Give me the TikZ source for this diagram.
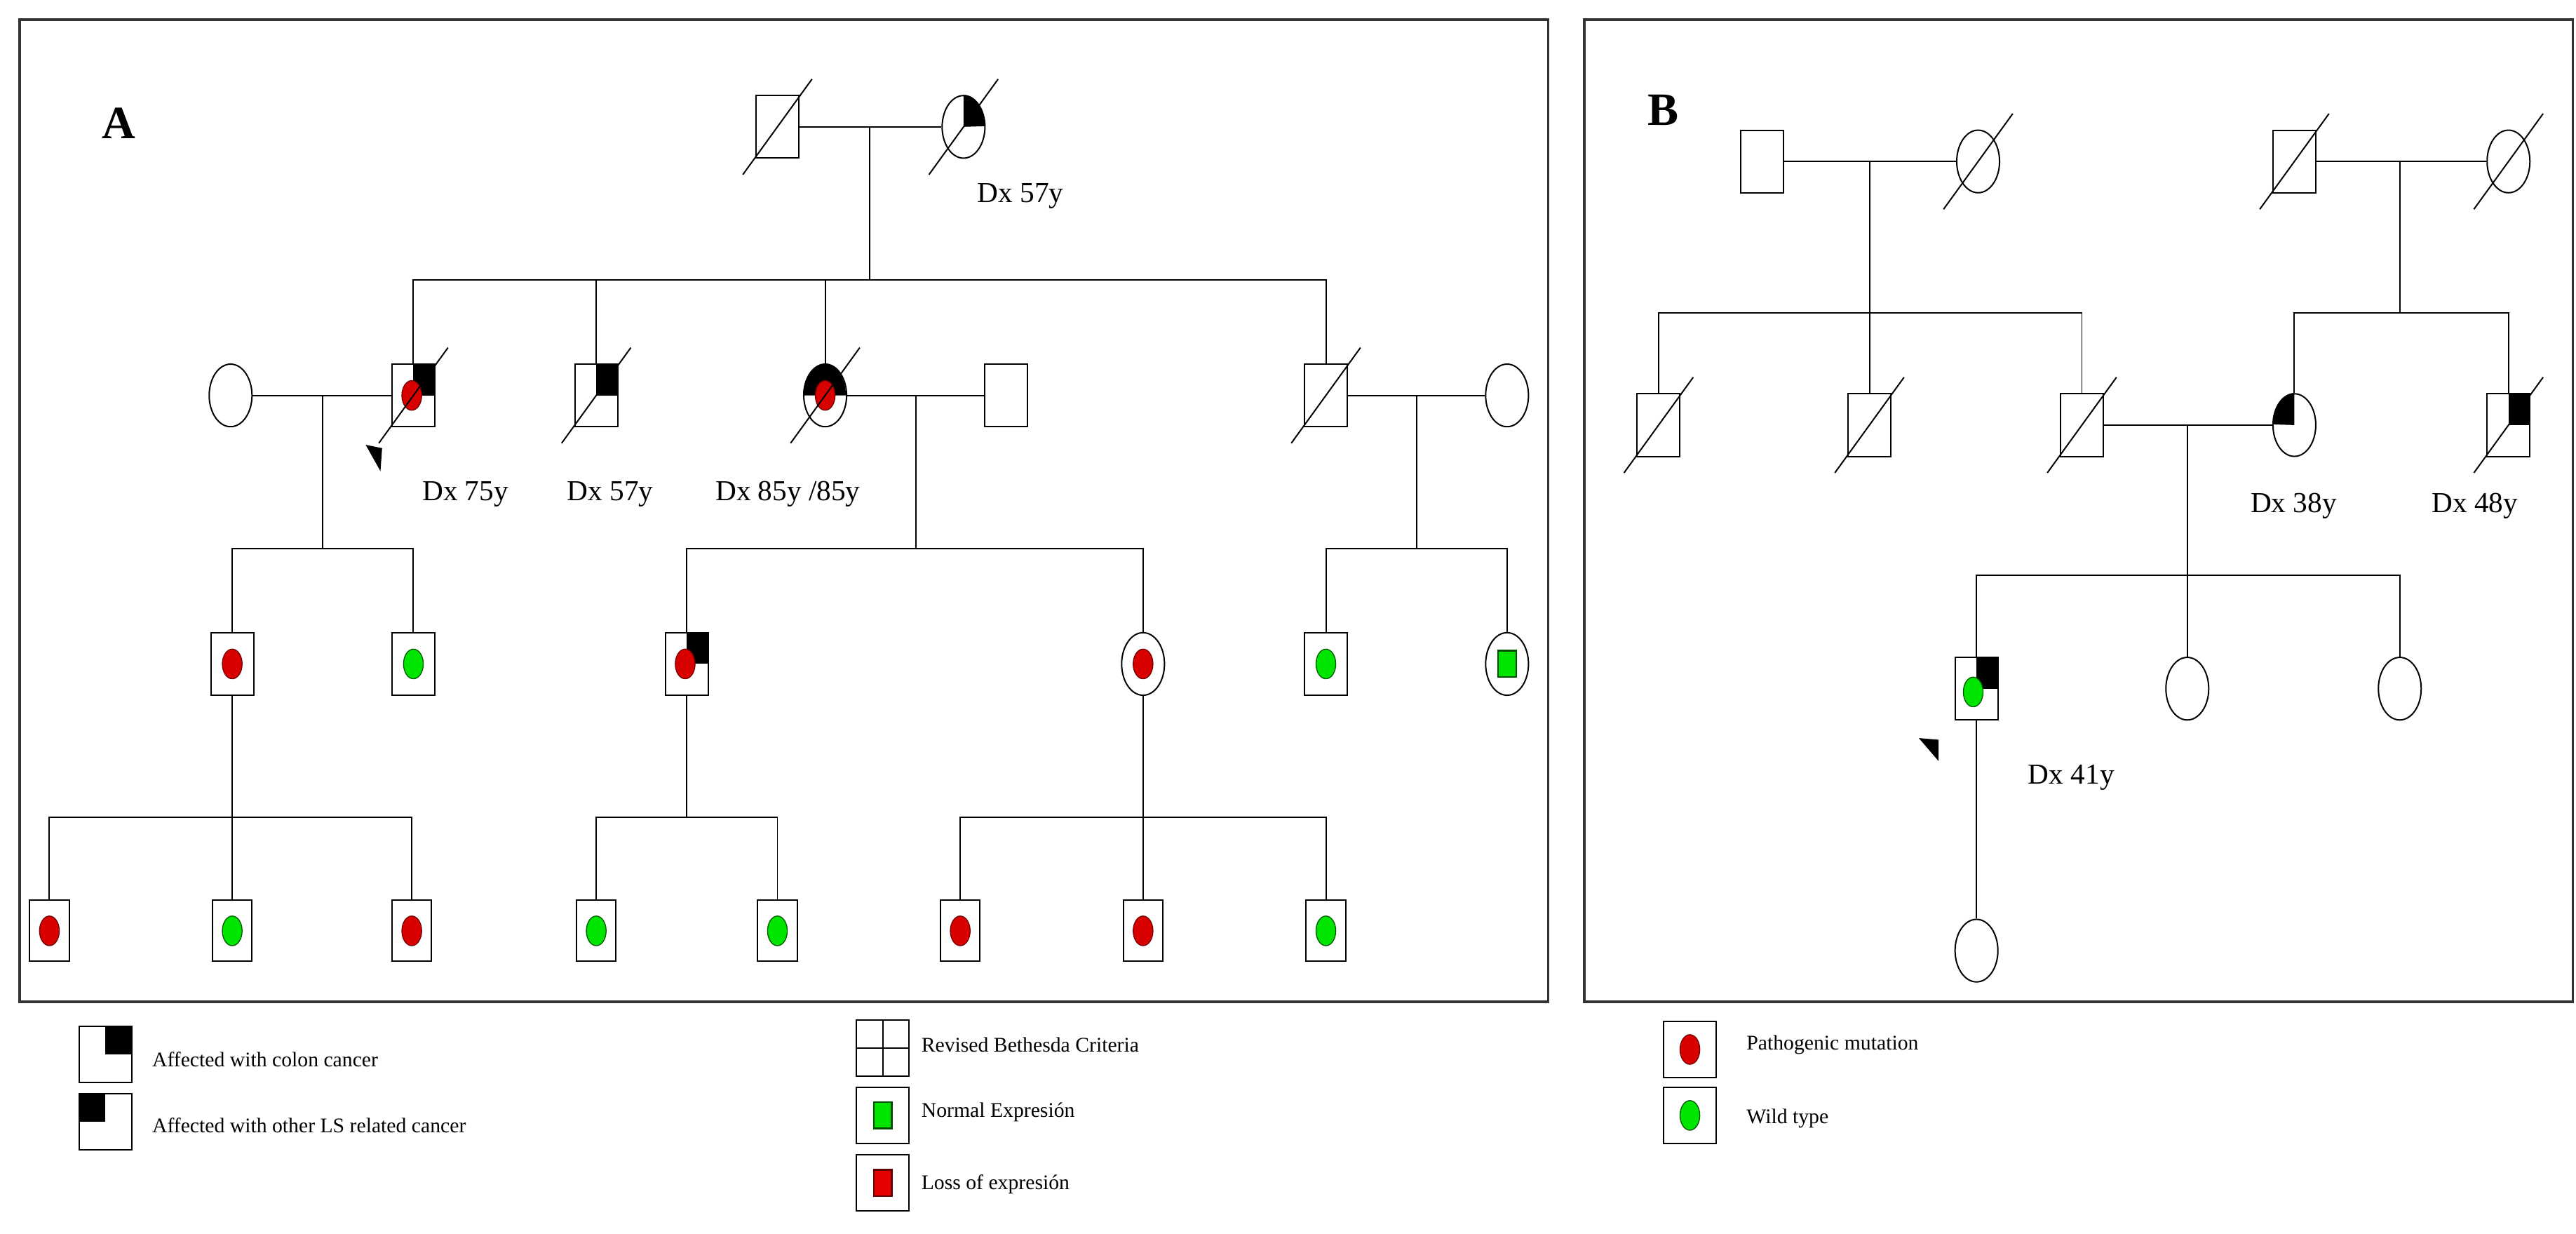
\documentclass[tikz,border=0pt]{standalone}
\usepackage{fontspec}
\setmainfont{Liberation Serif}
\usetikzlibrary{shapes.geometric,calc}
\newcommand\dec[1]{\draw ($(#1.center)+(-21,29)$) -- ($(#1.center)+(21,-29)$);}
\newcommand\colq[1]{\fill (#1.north) rectangle (#1.east);}
\newcommand\othq[1]{\fill (#1.north) rectangle (#1.west);}
\newcommand\colc[1]{\fill (#1.center) -- (#1.north) arc[start angle=90,end angle=0,x radius=0.65cm,y radius=0.95cm] -- cycle;}
\newcommand\othc[1]{\fill (#1.center) -- (#1.north) arc[start angle=90,end angle=180,x radius=0.65cm,y radius=0.95cm] -- cycle;}
\newcommand\halfc[1]{\fill (#1.west) arc[start angle=180,end angle=0,x radius=0.65cm,y radius=0.95cm] -- cycle;}
\begin{document}
\begin{tikzpicture}[x=0.05cm,y=-0.05cm,line width=1.2pt,
 sq/.style={draw,rectangle,minimum width=1.3cm,minimum height=1.9cm,inner sep=0,fill=white},
 ci/.style={draw,ellipse,minimum width=1.3cm,minimum height=1.9cm,inner sep=0,fill=white},
 lg/.style={draw,rectangle,minimum width=1.6cm,minimum height=1.7cm,inner sep=0},
 rdot/.style={draw=red!45!black,fill=red!85!black,ellipse,minimum width=0.6cm,minimum height=0.9cm,inner sep=0,line width=0.8pt},
 gdot/.style={draw=green!35!black,fill=green!90!black,ellipse,minimum width=0.6cm,minimum height=0.9cm,inner sep=0,line width=0.8pt},
 gsq/.style={draw=green!30!black,fill=green!90!black,rectangle,minimum width=0.55cm,minimum height=0.8cm,inner sep=0,line width=1.5pt},
 rsq/.style={draw=red!40!black,fill=red!90!black,rectangle,minimum width=0.55cm,minimum height=0.8cm,inner sep=0,line width=1.5pt},
 lbl/.style={font=\fontsize{25}{29}\selectfont,anchor=west,inner sep=0},
 leg/.style={font=\fontsize{18}{21}\selectfont,anchor=west,inner sep=0},
 pan/.style={font=\fontsize{40}{44}\bfseries\selectfont,inner sep=0},
 frame/.style={draw=black!80,line width=2.2pt}]
\useasboundingbox (0,0) rectangle (1564,749);
\fill[white] (0,0) rectangle (1564,749);
\draw[frame] (12,12) rectangle (940,608);
\draw[frame] (962,12) rectangle (1562,608);
\node[pan] (pA) at (72,75) {A};
\node[pan] (pB) at (1010,67) {B};
% ---------- Panel A
\node[sq] (A1) at (472,77) {};
\node[ci] (A2) at (585,77) {};
\node[ci] (A3) at (140,240) {};
\node[sq] (A4) at (251,240) {};
\node[sq] (A5) at (362,240) {};
\node[ci] (A6) at (501,240) {};
\node[sq] (A7) at (611,240) {};
\node[sq] (A8) at (805,240) {};
\node[ci] (A9) at (915,240) {};
\node[sq] (A10) at (141,403) {};
\node[sq] (A11) at (251,403) {};
\node[sq] (A12) at (417,403) {};
\node[ci] (A13) at (694,403) {};
\node[sq] (A14) at (805,403) {};
\node[ci] (A15) at (915,403) {};
\foreach \n/\x in {16/30,17/141,18/250,19/362,20/472,21/583,22/694,23/805}
  \node[sq,minimum width=1.2cm,minimum height=1.85cm] (A\n) at (\x,565) {};
\colc{A2}
\colq{A4}\colq{A5}\halfc{A6}\colq{A12}
\node[rdot] (dA4) at ($(A4.center)+(-1,0)$) {};
\node[rdot] (dA6) at (A6.center) {};
\node[rdot] (dA10) at (A10.center) {};
\node[gdot] (dA11) at (A11.center) {};
\node[rdot] (dA12) at ($(A12.center)+(-1,0)$) {};
\node[rdot] (dA13) at (A13.center) {};
\node[gdot] (dA14) at (A14.center) {};
\node[gsq] (dA15) at (A15.center) {};
\foreach \n/\c in {16/rdot,17/gdot,18/rdot,19/gdot,20/gdot,21/rdot,22/rdot,23/gdot}
  \node[\c] (dA\n) at (A\n.center) {};
\dec{A1}\dec{A2}\dec{A4}\dec{A5}\dec{A6}\dec{A8}
\coordinate (mA1) at (528,77); \coordinate (sA1) at (528,170);
\coordinate (mA2) at (196,240); \coordinate (sA2) at (196,333);
\coordinate (mA3) at (556,240); \coordinate (sA3) at (556,333);
\coordinate (mA4) at (860,240); \coordinate (sA4) at (860,333);
\coordinate (sA5) at (141,496); \coordinate (sA6) at (417,496); \coordinate (sA7) at (694,496);
\draw (A1) -- (A2); \draw (mA1) -- (sA1);
\draw (A4.north) -- (A4.north |- sA1) -- (A8.north |- sA1) -- (A8.north);
\draw (A5.north) -- (A5.north |- sA1); \draw (A6.north) -- (A6.north |- sA1);
\draw (A3) -- (A4); \draw (mA2) -- (sA2);
\draw (A10.north) -- (A10.north |- sA2) -- (A11.north |- sA2) -- (A11.north);
\draw (A6) -- (A7); \draw (mA3) -- (sA3);
\draw (A12.north) -- (A12.north |- sA3) -- (A13.north |- sA3) -- (A13.north);
\draw (A8) -- (A9); \draw (mA4) -- (sA4);
\draw (A14.north) -- (A14.north |- sA4) -- (A15.north |- sA4) -- (A15.north);
\draw (A10.south) -- (sA5);
\draw (A16.north) -- (A16.north |- sA5) -- (A18.north |- sA5) -- (A18.north);
\draw (A17.north) -- (A17.north |- sA5);
\draw (A12.south) -- (sA6);
\draw (A19.north) -- (A19.north |- sA6) -- (A20.north |- sA6) -- (A20.north);
\draw (A13.south) -- (sA7);
\draw (A21.north) -- (A21.north |- sA7) -- (A23.north |- sA7) -- (A23.north);
\draw (A22.north) -- (A22.north |- sA7);
\fill (222,270) -- (232,272) -- (231,286) -- cycle;
\node[lbl] (tA1) at (593,119) {Dx 57y};
\node[lbl] (tA2) at (256,300) {Dx 75y};
\node[lbl] (tA3) at (344,300) {Dx 57y};
\node[lbl] (tA4) at (434,300) {Dx 85y /85y};
% ---------- Panel B
\node[sq] (B1) at (1070,98) {};
\node[ci] (B2) at (1201,98) {};
\node[sq] (B3) at (1393,98) {};
\node[ci] (B4) at (1523,98) {};
\node[sq] (B5) at (1007,258) {};
\node[sq] (B6) at (1135,258) {};
\node[sq] (B7) at (1264,258) {};
\node[ci] (B8) at (1393,258) {};
\node[sq] (B9) at (1523,258) {};
\node[sq] (B10) at (1200,418) {};
\node[ci] (B11) at (1328,418) {};
\node[ci] (B12) at (1457,418) {};
\node[ci] (B13) at (1200,577) {};
\othc{B8}\colq{B9}\colq{B10}
\node[gdot] (dB10) at ($(B10.center)+(-2,2)$) {};
\dec{B2}\dec{B3}\dec{B4}\dec{B5}\dec{B6}\dec{B7}\dec{B9}
\coordinate (mB1) at (1135,98); \coordinate (sB1) at (1135,190);
\coordinate (mB2) at (1457,98); \coordinate (sB2) at (1457,190);
\coordinate (mB3) at (1328,258); \coordinate (sB3) at (1328,349);
\draw (B1) -- (B2); \draw (mB1) -- (sB1);
\draw (B5.north) -- (B5.north |- sB1) -- (B7.north |- sB1) -- (B7.north);
\draw (B6.north) -- (B6.north |- sB1);
\draw (B3) -- (B4); \draw (mB2) -- (sB2);
\draw (B8.north) -- (B8.north |- sB2) -- (B9.north |- sB2) -- (B9.north);
\draw (B7) -- (B8); \draw (mB3) -- (sB3);
\draw (B10.north) -- (B10.north |- sB3) -- (B12.north |- sB3) -- (B12.north);
\draw (B11.north) -- (B11.north |- sB3);
\draw (B10) -- (B13);
\fill (1165,448) -- (1177,449) -- (1177,462) -- cycle;
\node[lbl] (tB1) at (1366,307) {Dx 38y};
\node[lbl] (tB2) at (1476,307) {Dx 48y};
\node[lbl] (tB3) at (1231,472) {Dx 41y};
% ---------- Legend
\node[lg] (L1) at (64,640) {}; \colq{L1}
\node[lg] (L2) at (64,681) {}; \othq{L2}
\node[lg] (L3) at (536,636) {};
\draw (L3.north) -- (L3.south); \draw (L3.west) -- (L3.east);
\node[lg] (L4) at (536,677) {}; \node[gsq] (g4) at (L4.center) {};
\node[lg] (L5) at (536,718) {}; \node[rsq] (r5) at (L5.center) {};
\node[lg] (L6) at (1026,637) {}; \node[rdot] (d6) at (L6.center) {};
\node[lg] (L7) at (1026,677) {}; \node[gdot] (d7) at (L7.center) {};
\node[leg] (T1) at (92,643) {Affected with colon cancer};
\node[leg] (T2) at (92,683) {Affected with other LS related cancer};
\node[leg] (T3) at (559,634) {Revised Bethesda Criteria};
\node[leg] (T4) at (559,675) {Normal Expresión};
\node[leg] (T5) at (559,719) {Loss of expresión};
\node[leg] (T6) at (1060,634) {Pathogenic mutation};
\node[leg] (T7) at (1060,679) {Wild type};
\end{tikzpicture}
\end{document}
